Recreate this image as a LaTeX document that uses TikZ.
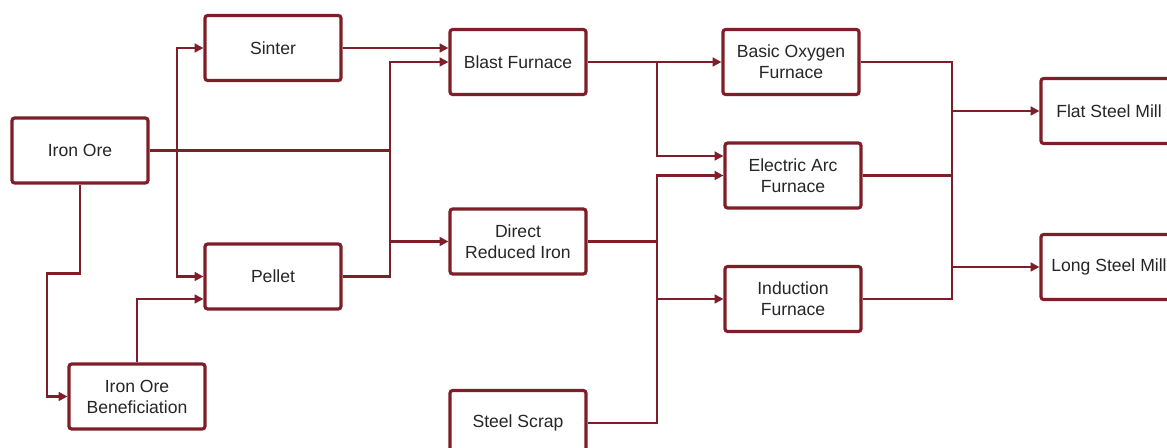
\documentclass[tikz,border=0pt]{standalone}
\usepackage{fontspec}
\setmainfont{Liberation Sans}
\usepackage{xcolor}
\usepackage{tikz}
\usetikzlibrary{arrows.meta}
\usetikzlibrary{backgrounds,calc}
\pgfdeclarelayer{edgelayer}
\pgfdeclarelayer{nodelayer}
\pgfsetlayers{background,edgelayer,nodelayer,main}
\definecolor{steelred}{RGB}{126,30,41}
\definecolor{steeltext}{RGB}{38,38,38}
\tikzstyle{none}=[inner sep=0mm]
\tikzstyle{stage}=[draw=steelred,line width=1.8pt,rounded corners=1.5pt,fill=white,minimum width=2.72cm,minimum height=1.3cm,align=center,text=steeltext,font=\fontsize{10}{12}\selectfont]
\tikzstyle{flow}=[draw=steelred,line width=1.2pt]
\tikzstyle{flowarr}=[flow,-{Triangle[length=5pt,width=5pt]}]

\begin{document}
\begin{tikzpicture}
	\useasboundingbox (0,0) rectangle (23.34,-8.96);
	\begin{pgfonlayer}{nodelayer}
		\node [style=stage] (io) at (1.60, -3.01) {Iron Ore};
		\node [style=stage] (sinter) at (5.46, -0.96) {Sinter};
		\node [style=stage] (pellet) at (5.46, -5.53) {Pellet};
		\node [style=stage] (iob) at (2.74, -7.93) {Iron Ore\\Beneficiation};
		\node [style=stage] (bf) at (10.36, -1.24) {Blast Furnace};
		\node [style=stage] (dri) at (10.36, -4.83) {Direct\\Reduced Iron};
		\node [style=stage] (scrap) at (10.36, -8.46) {Steel Scrap};
		\node [style=stage] (bof) at (15.82, -1.24) {Basic Oxygen\\Furnace};
		\node [style=stage] (eaf) at (15.86, -3.51) {Electric Arc\\Furnace};
		\node [style=stage] (indf) at (15.86, -5.98) {Induction\\Furnace};
		\node [style=stage] (flat) at (22.18, -2.22) {Flat Steel Mill};
		\node [style=stage] (long) at (22.18, -5.34) {Long Steel Mill};
		\coordinate (ja) at (3.54, -3.01);
		\coordinate (jb) at (7.80, -3.01);
		\coordinate (jc) at (0.94, -5.47);
		\coordinate (jd) at (13.14, -1.24);
		\coordinate (je) at (13.14, -4.83);
		\coordinate (jf) at (19.04, -2.22);
		\coordinate (jg) at (19.04, -5.34);
	\end{pgfonlayer}
	\begin{pgfonlayer}{edgelayer}
		% ore preparation
		\draw [style=flow] (io.east) -- (jb);
		\draw [style=flowarr] (ja) |- (sinter.west);
		\draw [style=flowarr] (ja) |- (pellet.west);
		\draw [style=flowarr] (io.south) |- (jc) |- (iob.west);
		\draw [style=flowarr] (iob.north) |- ($(pellet.west)+(0,-0.45)$);
		% iron making
		\draw [style=flowarr] (sinter.east) -- (sinter.east -| bf.west);
		\draw [style=flow] (pellet.east) -| (jb);
		\draw [style=flowarr] (jb) |- (bf.west);
		\draw [style=flowarr] (jb |- dri.west) -- (dri.west);
		% steel making
		\draw [style=flowarr] (bf.east) -- (bof.west);
		\draw [style=flowarr] (jd) |- ($(eaf.west)+(0,0.39)$);
		\draw [style=flow] (dri.east) -- (je);
		\draw [style=flow] (scrap.east) -| (je);
		\draw [style=flowarr] (je) |- (eaf.west);
		\draw [style=flowarr] (je |- indf.west) -- (indf.west);
		% rolling
		\draw [style=flow] (bof.east) -| (jf);
		\draw [style=flow] (indf.east) -| (jg);
		\draw [style=flow] (jf) -- (jg);
		\draw [style=flow] (eaf.east) -- (eaf.east -| jf);
		\draw [style=flowarr] (jf) -- (flat.west);
		\draw [style=flowarr] (jg) -- (long.west);
	\end{pgfonlayer}
\end{tikzpicture}
\end{document}
